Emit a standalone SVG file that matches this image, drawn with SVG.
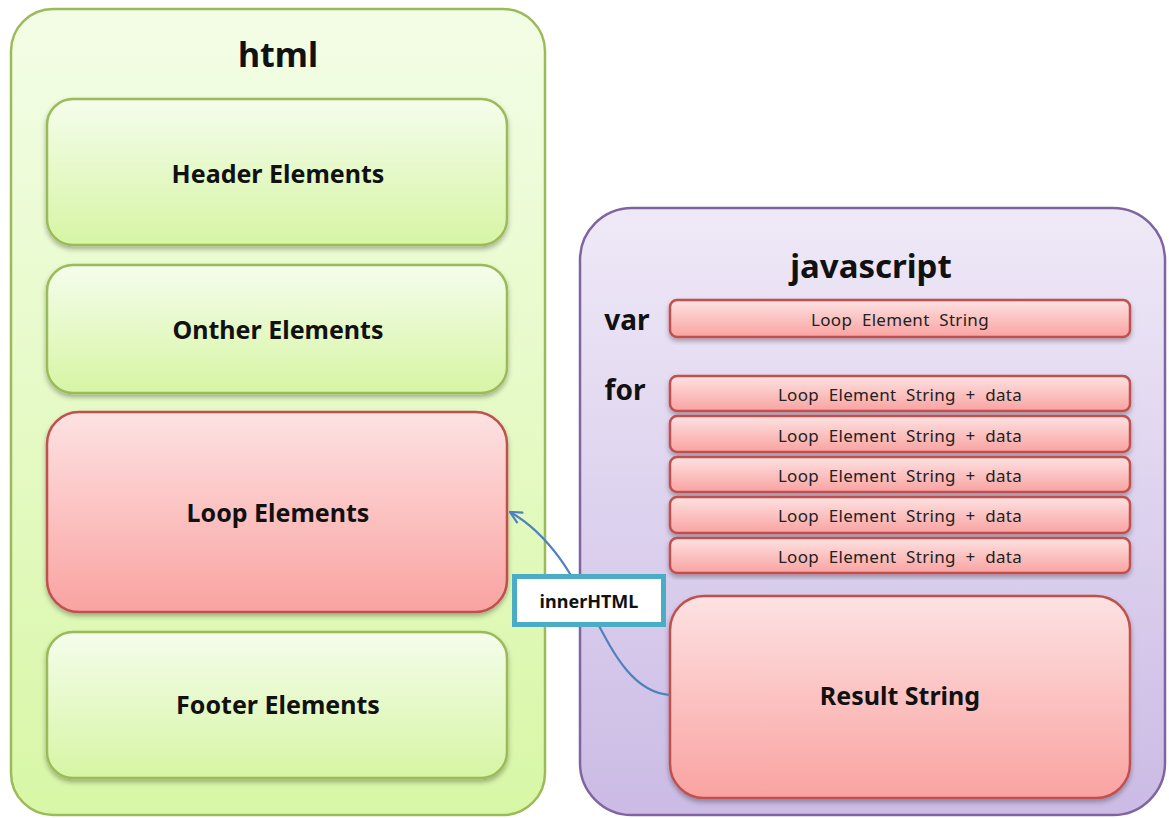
<svg xmlns="http://www.w3.org/2000/svg" width="1169" height="818" viewBox="0 0 1169 818">
<defs>
<linearGradient id="gOuter" x1="0" y1="0" x2="0" y2="1"><stop offset="0" stop-color="#f3fde6"/><stop offset="1" stop-color="#d8f7a6"/></linearGradient>
<linearGradient id="gGreen" x1="0" y1="0" x2="0" y2="1"><stop offset="0" stop-color="#f5fdec"/><stop offset="1" stop-color="#d6f5a4"/></linearGradient>
<linearGradient id="gRed" x1="0" y1="0" x2="0" y2="1"><stop offset="0" stop-color="#fde2e2"/><stop offset="1" stop-color="#f9a3a1"/></linearGradient>
<linearGradient id="gPurple" x1="0" y1="0" x2="0" y2="1"><stop offset="0" stop-color="#efe9f7"/><stop offset="1" stop-color="#cbbbe5"/></linearGradient>
<filter id="sh" x="-10%" y="-10%" width="120%" height="130%"><feDropShadow dx="0" dy="3" stdDeviation="2.5" flood-color="#000" flood-opacity="0.3"/></filter>
<marker id="arr" viewBox="0 0 14 14" refX="13" refY="7" markerWidth="14" markerHeight="14" markerUnits="userSpaceOnUse" orient="auto"><path d="M1,1 L13,7 L1,13" fill="none" stroke="#4f81bd" stroke-width="2.2"/></marker>
</defs>
<style>
.g{fill:url(#gGreen);stroke:#9bbb59;stroke-width:2.5;filter:url(#sh)}
.r{fill:url(#gRed);stroke:#c0504d;stroke-width:2.5;filter:url(#sh)}
.t{font-family:"Noto Sans","Open Sans",sans-serif;font-weight:bold;fill:#111;text-anchor:middle;dominant-baseline:central}
.lb{font-size:25px}
.s{font-family:"Noto Sans","Open Sans",sans-serif;font-size:17px;letter-spacing:0.3px;word-spacing:5px;fill:#222;text-anchor:middle;dominant-baseline:central}
</style>
<g id="html">
<rect x="11" y="9" width="534" height="806" rx="42" fill="url(#gOuter)" stroke="#9bbb59" stroke-width="2.5"/>
<text class="t" x="278" y="54" font-size="34">html</text>
</g>
<g id="header"><rect class="g" x="47" y="99" width="460" height="146" rx="26"/><text class="t lb" x="278" y="173">Header Elements</text></g>
<g id="onther"><rect class="g" x="47" y="265" width="460" height="128" rx="26"/><text class="t lb" x="278" y="329">Onther Elements</text></g>
<g id="loop"><rect class="r" x="47" y="412" width="460" height="200" rx="32"/><text class="t lb" x="278" y="512">Loop Elements</text></g>
<g id="footer"><rect class="g" x="47" y="632" width="460" height="146" rx="26"/><text class="t lb" x="278" y="704">Footer Elements</text></g>
<g id="javascript">
<rect x="580" y="208" width="585" height="607" rx="52" fill="url(#gPurple)" stroke="#8064a2" stroke-width="2.5"/>
<text class="t" x="871" y="265" font-size="33">javascript</text>
<text class="t" x="627" y="319" font-size="28">var</text>
<text class="t" x="625" y="389" font-size="28">for</text>
</g>
<g id="var-box"><rect class="r" x="670" y="300" width="460" height="37" rx="7"/><text class="s" x="900" y="319">Loop Element String</text></g>
<g id="for-1"><rect class="r" x="670" y="376" width="460" height="35" rx="7"/><text class="s" x="900" y="394">Loop Element String + data</text></g>
<g id="for-2"><rect class="r" x="670" y="416" width="460" height="36" rx="7"/><text class="s" x="900" y="435">Loop Element String + data</text></g>
<g id="for-3"><rect class="r" x="670" y="457" width="460" height="35" rx="7"/><text class="s" x="900" y="475">Loop Element String + data</text></g>
<g id="for-4"><rect class="r" x="670" y="497" width="460" height="36" rx="7"/><text class="s" x="900" y="515">Loop Element String + data</text></g>
<g id="for-5"><rect class="r" x="670" y="538" width="460" height="35" rx="7"/><text class="s" x="900" y="556">Loop Element String + data</text></g>
<g id="result"><rect class="r" x="670" y="596" width="460" height="202" rx="34"/><text class="t lb" x="900" y="695">Result String</text></g>
<g id="connectors">
<path d="M670,695 C600,690 595,560 510,512" fill="none" stroke="#4f81bd" stroke-width="2.2" marker-end="url(#arr)"/>
</g>
<g id="innerHTML">
<rect x="514.5" y="576.5" width="149" height="48" fill="#fff" stroke="#4bacc6" stroke-width="5"/>
<text class="t" x="589" y="601" font-size="18">innerHTML</text>
</g>
</svg>
